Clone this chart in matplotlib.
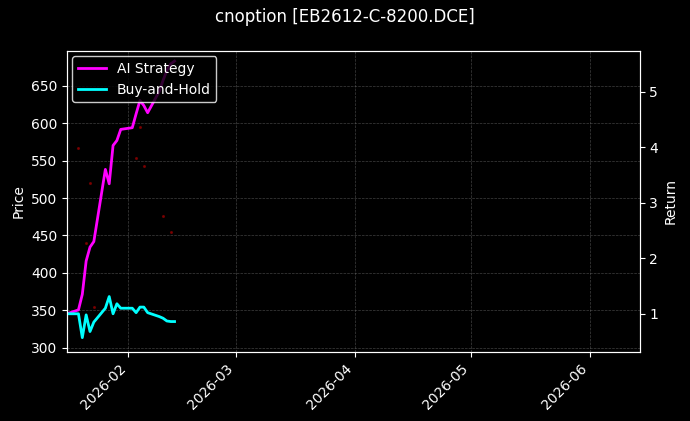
import matplotlib
matplotlib.use("Agg")
import matplotlib.pyplot as plt
import matplotlib.dates as mdates
import pandas as pd

plt.style.use("dark_background")

dates = pd.to_datetime([
    "2026-01-16", "2026-01-19", "2026-01-20", "2026-01-21", "2026-01-22", "2026-01-23",
    "2026-01-26", "2026-01-27", "2026-01-28", "2026-01-29", "2026-01-30",
    "2026-02-02", "2026-02-03", "2026-02-04", "2026-02-05", "2026-02-06",
    "2026-02-09", "2026-02-10", "2026-02-11", "2026-02-12", "2026-02-13"])
ai_strategy = [1.0, 1.07, 1.35, 1.95, 2.2, 2.3, 3.6, 3.34, 4.03, 4.12, 4.32,
               4.35, 4.6, 4.84, 4.75, 4.62, 5.0, 5.2, 5.38, 5.5, 5.55]
buy_hold = [1.0, 1.0, 0.57, 0.98, 0.68, 0.85, 1.1, 1.31, 1.0, 1.18, 1.1,
            1.1, 1.02, 1.12, 1.12, 1.02, 0.95, 0.92, 0.87, 0.86, 0.86]

price_dates = pd.to_datetime(["2026-01-19", "2026-01-21", "2026-01-22", "2026-01-23",
                              "2026-02-03", "2026-02-04", "2026-02-05", "2026-02-10", "2026-02-12"])
prices = [567, 440, 520, 355, 553, 595, 543, 476, 455]

fig, ax = plt.subplots(figsize=(6.9, 4.21), dpi=100)
ax.scatter(price_dates, prices, s=1.5, color="#8b0000", alpha=0.7)
ax.set_ylabel("Price")
ax.set_ylim(295, 697)
ax.set_xlim(pd.Timestamp("2026-01-16"), pd.Timestamp("2026-06-14"))
ax.grid(True, linestyle="--", linewidth=0.5, color="gray", alpha=0.5)

ax2 = ax.twinx()
ax2.plot(dates, ai_strategy, color="#ff00ff", linewidth=2, label="AI Strategy")
ax2.plot(dates, buy_hold, color="#00ffff", linewidth=2, label="Buy-and-Hold")
ax2.set_ylabel("Return")
ax2.set_ylim(0.32, 5.74)
leg = ax2.legend(loc="upper left", facecolor="black", edgecolor="white",
                 borderaxespad=0.4)

ax.xaxis.set_major_locator(mdates.MonthLocator())
ax.xaxis.set_major_formatter(mdates.DateFormatter("%Y-%m"))
plt.setp(ax.get_xticklabels(), rotation=45, ha="right")

fig.suptitle("cnoption [EB2612-C-8200.DCE]")
fig.subplots_adjust(left=0.097, right=0.927, top=0.88, bottom=0.165)
fig.savefig("out.png")
